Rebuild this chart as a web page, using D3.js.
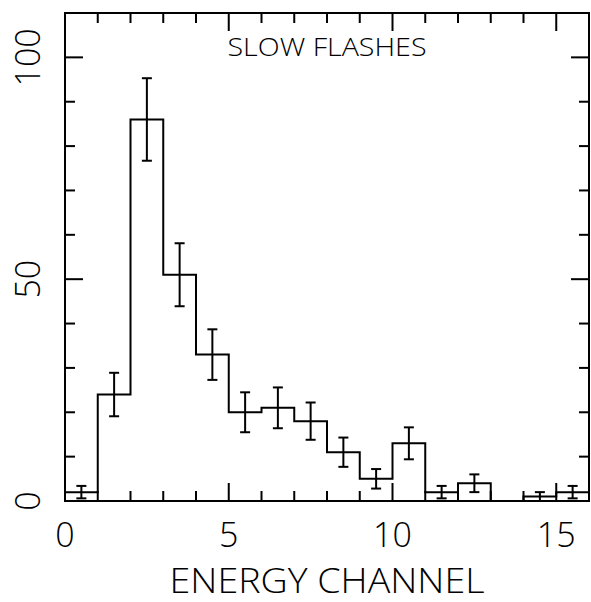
<!DOCTYPE html>
<html>
<head>
<meta charset="utf-8">
<script src="https://cdn.jsdelivr.net/npm/d3@7"></script>
<style>
  html, body { margin: 0; padding: 0; background: #fff; }
  svg { display: block; }
  text { font-family: "Open Sans", "Liberation Sans", Arial, sans-serif; font-weight: 300; fill: #000; }
</style>
</head>
<body>
<svg id="chart" width="591" height="602"></svg>
<script>
// Counts per energy channel (bins 0..15) and their 1-sigma errors
const channels = [0, 1, 2, 3, 4, 5, 6, 7, 8, 9, 10, 11, 12, 13, 14, 15];
const counts   = [2, 24, 86, 51, 33, 20, 21, 18, 11, 5, 13, 2, 4, 0, 1, 2];
const errors   = [1.4, 4.9, 9.3, 7.1, 5.7, 4.5, 4.6, 4.2, 3.3, 2.2, 3.6, 1.4, 2.0, 0, 1.0, 1.4];

const xTicks = [0, 5, 10, 15];
const yTicks = [0, 50, 100];
const titleText = "SLOW FLASHES";
const xLabel = "ENERGY CHANNEL";

const svg = d3.select("#chart");
const plotL = 65, plotR = 589, plotT = 13, plotB = 501;

const x = d3.scaleLinear().domain([0, 16]).range([plotL, plotR]);
const y = d3.scaleLinear().domain([0, 110]).range([plotB, plotT]);

const lw = 2;

// Frame
svg.append("rect")
  .attr("x", plotL).attr("y", plotT)
  .attr("width", plotR - plotL).attr("height", plotB - plotT)
  .attr("fill", "none").attr("stroke", "#000").attr("stroke-width", lw);

// Inward ticks on all four sides
const xMinor = d3.range(0, 17, 1);
const yMinor = d3.range(0, 111, 10);
const tickG = svg.append("g").attr("stroke", "#000").attr("stroke-width", lw);
xMinor.forEach(v => {
  const len = v % 5 === 0 ? 18 : 10;
  tickG.append("line").attr("x1", x(v)).attr("x2", x(v)).attr("y1", plotB).attr("y2", plotB - len);
  tickG.append("line").attr("x1", x(v)).attr("x2", x(v)).attr("y1", plotT).attr("y2", plotT + len);
});
yMinor.forEach(v => {
  const len = v % 50 === 0 ? 18 : 10;
  tickG.append("line").attr("y1", y(v)).attr("y2", y(v)).attr("x1", plotL).attr("x2", plotL + len);
  tickG.append("line").attr("y1", y(v)).attr("y2", y(v)).attr("x1", plotR).attr("x2", plotR - len);
});

// Tick labels
svg.append("g").selectAll("text").data(xTicks).join("text")
  .attr("x", d => x(d)).attr("y", 547)
  .attr("text-anchor", "middle")
  .attr("font-size", 34)
  .text(d => d);

svg.append("g").selectAll("text").data(yTicks).join("text")
  .attr("transform", d => `translate(40,${y(d)}) rotate(-90)`)
  .attr("text-anchor", "middle")
  .attr("font-size", 34)
  .text(d => d);

// Axis title and panel label
svg.append("text")
  .attr("x", (plotL + plotR) / 2).attr("y", 593)
  .attr("text-anchor", "middle").attr("font-size", 34)
  .attr("textLength", 315).attr("lengthAdjust", "spacingAndGlyphs")
  .text(xLabel);

svg.append("text")
  .attr("x", (plotL + plotR) / 2).attr("y", 56)
  .attr("text-anchor", "middle").attr("font-size", 26)
  .attr("textLength", 199).attr("lengthAdjust", "spacingAndGlyphs")
  .text(titleText);

// Histogram outline
const stepPts = channels.map((c, i) => [c, counts[i]]);
stepPts.push([16, counts[counts.length - 1]]);
const line = d3.line()
  .x(d => x(d[0])).y(d => y(d[1]))
  .curve(d3.curveStepAfter);
svg.append("path")
  .attr("d", line(stepPts))
  .attr("fill", "none").attr("stroke", "#000").attr("stroke-width", lw);

// Error bars at bin centres
const eg = svg.append("g").attr("stroke", "#000").attr("stroke-width", lw);
channels.forEach((c, i) => {
  if (errors[i] <= 0) return;
  const cx = x(c + 0.5);
  const y1 = y(counts[i] + errors[i]), y0 = y(Math.max(0, counts[i] - errors[i]));
  eg.append("line").attr("x1", cx).attr("x2", cx).attr("y1", y1).attr("y2", y0);
  eg.append("line").attr("x1", cx - 5).attr("x2", cx + 5).attr("y1", y1).attr("y2", y1);
  eg.append("line").attr("x1", cx - 5).attr("x2", cx + 5).attr("y1", y0).attr("y2", y0);
});
</script>
</body>
</html>
